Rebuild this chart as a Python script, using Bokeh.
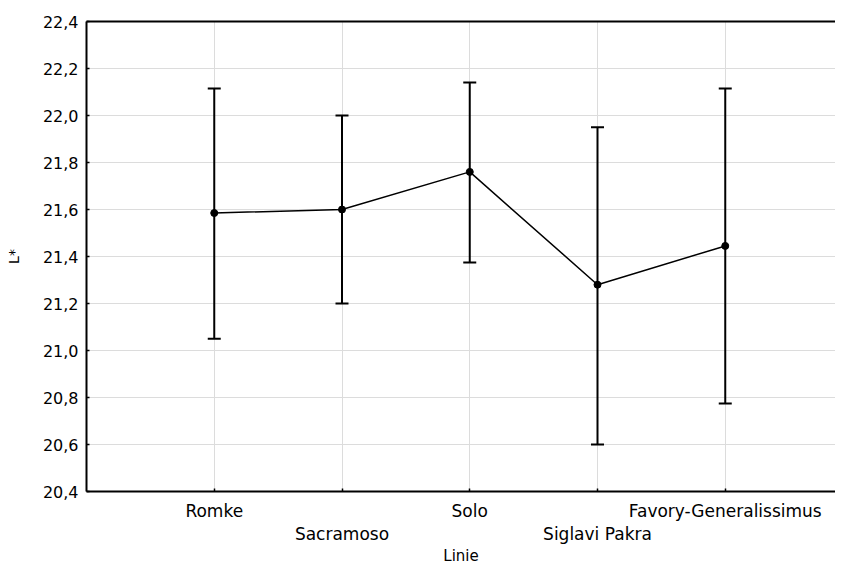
from bokeh.plotting import figure
from bokeh.models import (Range1d, FixedTicker, LinearAxis, Whisker, ColumnDataSource,
                          TeeHead, CustomJSTickFormatter, Grid)
from bokeh.embed import file_html
from bokeh.resources import INLINE

categories = ["Romke", "Sacramoso", "Solo", "Siglavi Pakra", "Favory-Generalissimus"]
means = [21.585, 21.60, 21.76, 21.28, 21.445]
lower = [21.05, 21.20, 21.375, 20.60, 20.775]
upper = [22.115, 22.00, 22.14, 21.95, 22.115]
y_ticks = [20.4, 20.6, 20.8, 21.0, 21.2, 21.4, 21.6, 21.8, 22.0, 22.2, 22.4]

positions = list(range(1, len(categories) + 1))
FONT = "DejaVu Sans"

src = ColumnDataSource(dict(x=positions, mean=means, lower=lower, upper=upper))

p = figure(width=835, height=567, x_range=Range1d(0, 5.863), y_range=Range1d(20.4, 22.4),
           output_backend="svg", toolbar_location=None, x_axis_type=None, y_axis_type=None,
           min_border_left=86, min_border_right=0, min_border_top=21, min_border_bottom=74)
p.outline_line_color = None
p.background_fill_color = "white"
p.border_fill_color = "white"

# grids
p.add_layout(Grid(dimension=0, ticker=FixedTicker(ticks=positions),
                  grid_line_color="#dcdcdc", grid_line_width=1))
p.add_layout(Grid(dimension=1, ticker=FixedTicker(ticks=y_ticks),
                  grid_line_color="#dcdcdc", grid_line_width=1))

# y axis
yaxis = LinearAxis(ticker=FixedTicker(ticks=y_ticks),
                   formatter=CustomJSTickFormatter(code="return tick.toFixed(1).replace('.', ',');"),
                   axis_label="L*", axis_line_width=2, axis_line_color="black",
                   major_tick_in=3, major_tick_out=0, major_tick_line_width=1.5,
                   minor_tick_line_color=None, major_label_standoff=8,
                   major_label_text_font=FONT, major_label_text_font_size="16px",
                   major_label_text_color="black",
                   axis_label_text_font=FONT, axis_label_text_font_size="14px",
                   axis_label_text_color="black",
                   axis_label_text_font_style="normal", axis_label_standoff=18)
p.add_layout(yaxis, "left")

# x axis row 1 (with ticks)
over1 = {pos: (cat if i % 2 == 0 else "") for i, (pos, cat) in enumerate(zip(positions, categories))}
xaxis1 = LinearAxis(ticker=FixedTicker(ticks=positions), major_label_overrides=over1,
                    axis_line_width=2, axis_line_color="black",
                    major_tick_in=3, major_tick_out=0, major_tick_line_width=1.5,
                    minor_tick_line_color=None, major_label_standoff=9,
                    major_label_text_font=FONT, major_label_text_font_size="17px",
                    major_label_text_color="black")
p.add_layout(xaxis1, "below")

# x axis row 2 (staggered labels)
odd_pos = [pos for i, pos in enumerate(positions) if i % 2 == 1]
over2 = {pos: categories[pos - 1] for pos in odd_pos}
xaxis2 = LinearAxis(ticker=FixedTicker(ticks=odd_pos), major_label_overrides=over2,
                    axis_line_color=None, major_tick_line_color=None,
                    minor_tick_line_color=None, major_tick_in=0, major_tick_out=0,
                    major_label_standoff=0,
                    major_label_text_font=FONT, major_label_text_font_size="17px",
                    major_label_text_color="black",
                    axis_label="Linie", axis_label_text_font=FONT,
                    axis_label_text_font_size="15px", axis_label_text_font_style="normal",
                    axis_label_text_color="black", axis_label_standoff=0)
p.add_layout(xaxis2, "below")

# top border line
top = LinearAxis(ticker=FixedTicker(ticks=[]), axis_line_width=2, axis_line_color="black",
                 major_tick_line_color=None, minor_tick_line_color=None,
                 major_tick_in=0, major_tick_out=0, major_label_standoff=0,
                 major_label_text_font_size="0px")
p.add_layout(top, "above")

# error bars
p.add_layout(Whisker(base="x", upper="upper", lower="lower", source=src,
                     line_color="black", line_width=2,
                     upper_head=TeeHead(size=13, line_width=2, line_color="black"),
                     lower_head=TeeHead(size=13, line_width=2, line_color="black")))

p.line("x", "mean", source=src, line_color="black", line_width=1.5)
p.scatter("x", "mean", source=src, size=7, fill_color="black", line_color="black")

open("out.html", "w").write(file_html(p, INLINE))
